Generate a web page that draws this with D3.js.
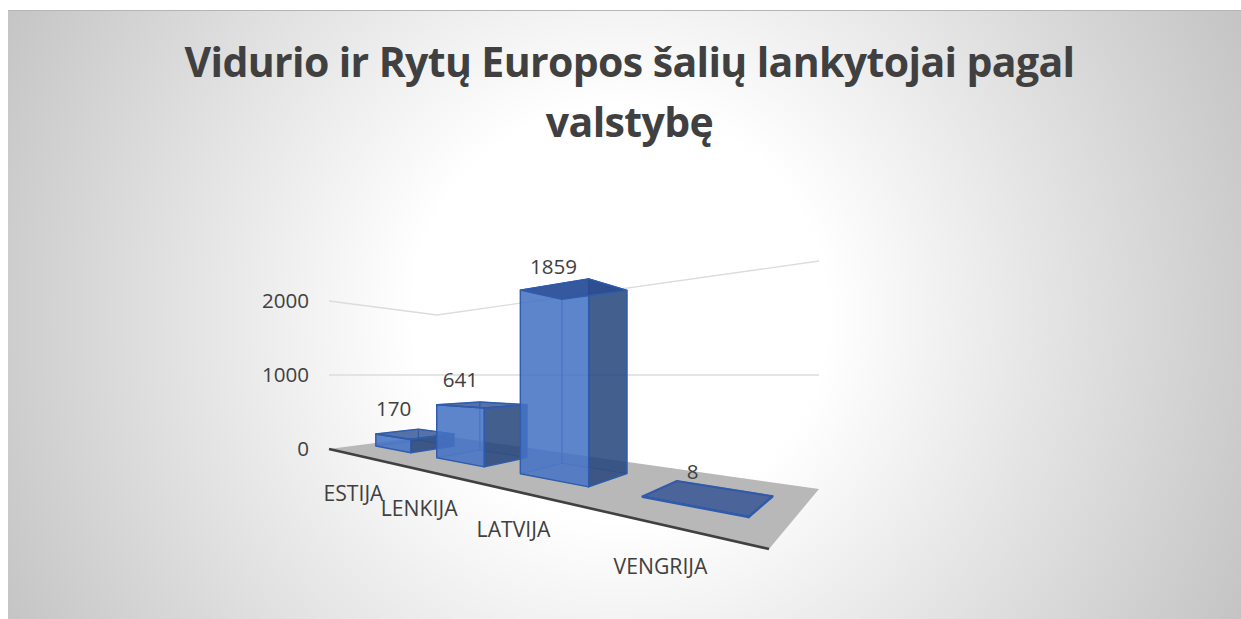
<!DOCTYPE html>
<html>
<head>
<meta charset="utf-8">
<script src="https://cdn.jsdelivr.net/npm/d3@7"></script>
<style>
  html, body { margin: 0; padding: 0; background: #fff; }
  svg { display: block; }
  text { font-family: "Open Sans", sans-serif; fill: #404040; }
</style>
</head>
<body>
<svg id="chart" width="1241" height="619"></svg>
<script>
const categories = ["ESTIJA", "LENKIJA", "LATVIJA", "VENGRIJA"];
const values = [170, 641, 1859, 8];
const tickValues = [0, 1000, 2000];
const titleLines = ["Vidurio ir Rytų Europos šalių lankytojai pagal", "valstybę"];

const width = 1241, height = 619;
const svg = d3.select("#chart");

// Fond : degrade radial blanc au centre, gris dans les coins.
const grad = svg.append("defs").append("radialGradient")
    .attr("id", "bg")
    .attr("gradientUnits", "userSpaceOnUse")
    .attr("cx", 620).attr("cy", 315).attr("r", 690);
grad.append("stop").attr("offset", "0.3").attr("stop-color", "#ffffff");
grad.append("stop").attr("offset", "1").attr("stop-color", "#c4c4c4");

svg.append("rect")
    .attr("x", 8).attr("y", 11)
    .attr("width", width - 8).attr("height", height - 11)
    .attr("fill", "url(#bg)");
svg.append("line")
    .attr("x1", 8).attr("x2", width).attr("y1", 10.5).attr("y2", 10.5)
    .attr("stroke", "#b5b5b5");

svg.selectAll(".title")
    .data(titleLines)
    .enter()
    .append("text")
    .attr("class", "title")
    .attr("x", 629.5)
    .attr("y", function(d, i) { return 77 + i * 60; })
    .attr("text-anchor", "middle")
    .attr("font-size", 41)
    .attr("font-weight", 700)
    .attr("letter-spacing", -0.62)
    .text(function(d) { return d; });

// Plancher en perspective : coins du plan (u, w) dans [0,1] vers l'ecran.
const floorA = [329, 449], floorB = [769, 549], floorC = [819, 489], floorD = [437, 435];
const horizonY = 375;   // la ligne d'horizon tombe sur la valeur 1000
const homography = makeHomography(floorA, floorB, floorC, floorD);

function makeHomography(A, B, C, D) {
    const dx1 = B[0] - C[0], dx2 = D[0] - C[0], sx = A[0] - B[0] + C[0] - D[0];
    const dy1 = B[1] - C[1], dy2 = D[1] - C[1], sy = A[1] - B[1] + C[1] - D[1];
    const det = dx1 * dy2 - dx2 * dy1;
    const g = (sx * dy2 - dx2 * sy) / det;
    const h = (dx1 * sy - sx * dy1) / det;
    return function(u, w) {
        const q = g * u + h * w + 1;
        return [
            ((B[0] - A[0] + g * B[0]) * u + (D[0] - A[0] + h * D[0]) * w + A[0]) / q,
            ((B[1] - A[1] + g * B[1]) * u + (D[1] - A[1] + h * D[1]) * w + A[1]) / q
        ];
    };
}

// Facteur vertical : 0 -> plancher, 1000 -> horizon, au-dela -> au-dessus.
const heightFactor = d3.scaleLinear().domain([0, 1000]).range([1, 0]);

function project(u, w, value) {
    const p = homography(u, w);
    return [p[0], horizonY + (p[1] - horizonY) * heightFactor(value)];
}

const uScale = d3.scaleBand()
    .domain(categories)
    .range([0, 1])
    .paddingInner(0.39)
    .paddingOuter(0.1875);
const depthFront = 0.3, depthBack = 0.695;

const polygon = d3.line();

// Plancher.
svg.append("path")
    .attr("d", polygon([floorA, floorB, floorC, floorD]) + "Z")
    .attr("fill", "#b8b8b8");

// Lignes de grille sur les deux murs.
svg.selectAll(".grid")
    .data(tickValues.filter(function(d) { return d > 0; }))
    .enter()
    .append("path")
    .attr("class", "grid")
    .attr("d", function(d) {
        return polygon([project(0, 0, d), project(0, 1, d), project(1, 1, d)]);
    })
    .attr("fill", "none")
    .attr("stroke", "#dcdcdc")
    .attr("stroke-width", 1.3);

// Bord avant du plancher.
svg.append("line")
    .attr("x1", floorA[0]).attr("y1", floorA[1])
    .attr("x2", floorB[0]).attr("y2", floorB[1])
    .attr("stroke", "#404040")
    .attr("stroke-width", 2.6);

// Axe des valeurs, cale sur le coin avant gauche.
const yAxisScale = d3.scaleLinear()
    .domain([0, 2000])
    .range([project(0, 0, 0)[1], project(0, 0, 2000)[1]]);
const yAxis = svg.append("g")
    .attr("transform", "translate(329,0)")
    .call(d3.axisLeft(yAxisScale)
        .tickValues(tickValues)
        .tickFormat(d3.format("d"))
        .tickSize(0)
        .tickPadding(20));
yAxis.select(".domain").remove();
yAxis.selectAll("text")
    .attr("font-size", 20.6)
    .style("font-family", "'Open Sans', sans-serif")
    .attr("fill", "#404040");

// Barres 3D translucides, de l'arriere vers l'avant.
const edgeColor = "#2f5cad";
const bars = svg.selectAll(".bar")
    .data(categories.map(function(c, i) { return { category: c, value: values[i] }; }))
    .enter()
    .append("g")
    .attr("class", "bar");

bars.each(function(d) {
    const u0 = uScale(d.category), u1 = u0 + uScale.bandwidth();
    const base = {
        l: project(u0, depthFront, 0), f: project(u1, depthFront, 0),
        r: project(u1, depthBack, 0), b: project(u0, depthBack, 0)
    };
    const top = {
        l: project(u0, depthFront, d.value), f: project(u1, depthFront, d.value),
        r: project(u1, depthBack, d.value), b: project(u0, depthBack, d.value)
    };
    const g = d3.select(this);

    // Faces arriere : seulement les aretes.
    [[base.l, base.b, top.b, top.l], [base.b, base.r, top.r, top.b]].forEach(function(face) {
        g.append("path")
            .attr("d", polygon(face) + "Z")
            .attr("fill", "#4472c4")
            .attr("fill-opacity", 0.12)
            .attr("stroke", edgeColor)
            .attr("stroke-opacity", 0.55)
            .attr("stroke-width", 1);
    });

    // Face gauche claire, face droite sombre, dessus.
    [
        { pts: [base.l, base.f, top.f, top.l], fill: "#4472c4", opacity: 0.85 },
        { pts: [base.f, base.r, top.r, top.f], fill: "#26457b", opacity: 0.85 },
        { pts: [top.l, top.f, top.r, top.b], fill: "#27488f", opacity: 0.75 }
    ].forEach(function(face) {
        g.append("path")
            .attr("d", polygon(face.pts) + "Z")
            .attr("fill", face.fill)
            .attr("fill-opacity", face.opacity)
            .attr("stroke", edgeColor)
            .attr("stroke-width", 1.4)
            .attr("stroke-linejoin", "round");
    });
});

// Etiquettes de valeurs : au-dessus du milieu de l'arete avant.
const valueLabelGap = [21, 19, 11, 27];
svg.selectAll(".value-label")
    .data(values)
    .enter()
    .append("text")
    .attr("class", "value-label")
    .attr("x", function(d, i) {
        return project(uScale(categories[i]) + uScale.bandwidth() / 2, depthFront, d)[0] + 1;
    })
    .attr("y", function(d, i) {
        return project(uScale(categories[i]) + uScale.bandwidth() / 2, depthFront, d)[1] - valueLabelGap[i];
    })
    .attr("text-anchor", "middle")
    .attr("font-size", 20.6)
    .text(function(d) { return d; });

// Etiquettes de categories : sous le bord avant du plancher.
const categoryLabelGap = [46, 46, 46, 49];
svg.selectAll(".category-label")
    .data(categories)
    .enter()
    .append("text")
    .attr("class", "category-label")
    .attr("x", function(d) { return project(uScale(d) + uScale.bandwidth() / 2, 0, 0)[0] - 1; })
    .attr("y", function(d, i) { return project(uScale(d) + uScale.bandwidth() / 2, 0, 0)[1] + categoryLabelGap[i]; })
    .attr("text-anchor", "middle")
    .attr("font-size", 21.2)
    .text(function(d) { return d; });
</script>
</body>
</html>
